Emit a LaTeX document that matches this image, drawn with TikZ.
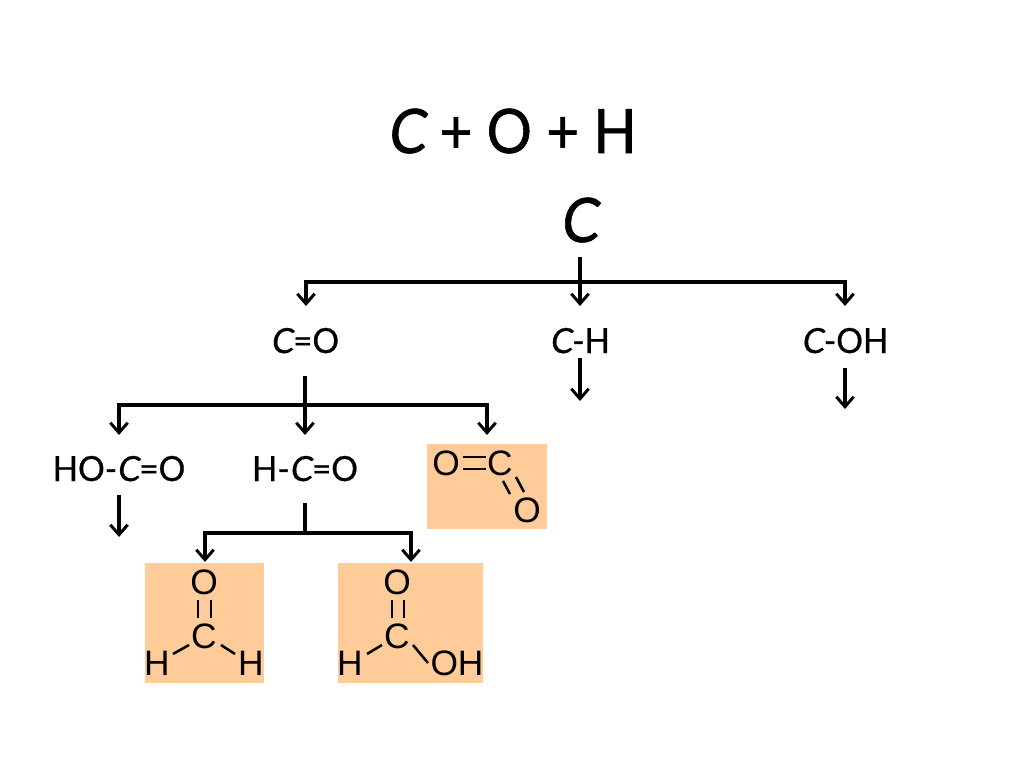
\documentclass[tikz,border=0pt]{standalone}
\usepackage{fontspec}
\newfontfamily\medfont{Lato}[FakeStretch=0.96,FakeBold=0.6]
\newfontfamily\medslant{Lato}[FakeStretch=0.96,FakeBold=0.6,FakeSlant=0.12]
\newfontfamily\bigfont{Lato}[FakeStretch=0.92,FakeBold=1]
\newfontfamily\bigslant{Lato}[FakeStretch=0.92,FakeBold=1,FakeSlant=0.12]
\newfontfamily\chemfont{Liberation Sans}
\usetikzlibrary{arrows.meta,calc}
\definecolor{peach}{HTML}{FFCC99}
\newcommand{\cm}{{\medslant C}}
\newcommand{\cb}{{\bigslant C}}
\tikzset{
  x=0.75pt,y=-0.75pt,
  big/.style={anchor=base,inner sep=0pt,font=\bigfont\fontsize{46}{50}\selectfont},
  med/.style={anchor=base,inner sep=0pt,font=\medfont\fontsize{26}{30}\selectfont},
  atom/.style={anchor=base,inner sep=0pt,font=\chemfont\fontsize{26.5}{30}\selectfont},
  flow/.style={line width=2.4pt,black},
  arrowed/.style={flow,-{Straight Barb[length=7.5pt,width=13pt,line width=2.2pt]}},
  bond/.style={line width=1.9pt,black},
  panel/.style={fill=peach,draw=none}
}
\begin{document}
\begin{tikzpicture}
\useasboundingbox (0,0) rectangle (1024,768);
\fill[white] (0,0) rectangle (1024,768);
% panels
\fill[panel] (427,444) rectangle (547,529);
\fill[panel] (145,563) rectangle (264,683);
\fill[panel] (338,563) rectangle (483,683);
% titles and labels
\node[big] (title) at (512,153) {\cb{} + O + H};
\node[big] (root) at (579,242) {\cb};
\node[med] (co) at (305,353) {\cm=O};
\node[med] (ch) at (580,353) {\cm-H};
\node[med] (coh) at (845,353) {\cm-OH};
\node[med] (hoco) at (119,481) {HO-\cm=O};
\node[med] (hco) at (305,481) {H-\cm=O};
% first tier
\coordinate (j1) at (580,282);
\coordinate (t1a) at (306,306);
\coordinate (t1b) at (580,306);
\coordinate (t1c) at (845,306);
\draw[arrowed] (580,257) -- (t1b);
\draw[arrowed] (j1) -| (t1a);
\draw[arrowed] (j1) -| (t1c);
\coordinate (a1) at (580,358);
\coordinate (a2) at (580,401);
\draw[arrowed] (a1) -- (a2);
\coordinate (b1) at (845,368);
\coordinate (b2) at (845,409);
\draw[arrowed] (b1) -- (b2);
% second tier
\coordinate (s0) at (305,376);
\coordinate (j2) at (305,405);
\coordinate (t2a) at (119,435);
\coordinate (t2b) at (305,435);
\coordinate (t2c) at (487,435);
\draw[arrowed] (s0) -- (t2b);
\draw[arrowed] (j2) -| (t2a);
\draw[arrowed] (j2) -| (t2c);
\coordinate (c1) at (119,495);
\coordinate (c2) at (119,537);
\draw[arrowed] (c1) -- (c2);
% third tier
\coordinate (s1) at (305,503);
\coordinate (j3) at (305,533);
\coordinate (t3a) at (205,562);
\coordinate (t3b) at (411,562);
\draw[flow] (s1) -- (j3);
\draw[arrowed] (j3) -| (t3a);
\draw[arrowed] (j3) -| (t3b);
% carbon dioxide
\node[atom] (do1) at (446,475) {O};
\node[atom] (dc) at (500,475) {C};
\node[atom] (do2) at (527,522) {O};
\draw[bond] ($(do1.base)+(17,-18)$) -- ($(dc.base)+(-14,-18)$);
\draw[bond] ($(do1.base)+(17,-6)$) -- ($(dc.base)+(-14,-6)$);
\draw[bond] ($(dc.base)+(3,6)$) -- ($(do2.base)+(-17,-28)$);
\draw[bond] ($(dc.base)+(16,2)$) -- ($(do2.base)+(-3,-30)$);
% formaldehyde
\node[atom] (fo) at (204,594) {O};
\node[atom] (fc) at (204,648) {C};
\node[atom] (fh1) at (157,675) {H};
\node[atom] (fh2) at (251,675) {H};
\draw[bond] ($(fo.base)+(-6,6)$) -- ($(fc.base)+(-6,-30)$);
\draw[bond] ($(fo.base)+(7,6)$) -- ($(fc.base)+(7,-30)$);
\draw[bond] ($(fh1.base)+(16,-21)$) -- ($(fc.base)+(-15,-3)$);
\draw[bond] ($(fc.base)+(17,-3)$) -- ($(fh2.base)+(-16,-21)$);
% formic acid
\node[atom] (ao) at (397,594) {O};
\node[atom] (ac) at (397,648) {C};
\node[atom] (ah) at (350,675) {H};
\node[atom] (aoh) at (457,675) {OH};
\draw[bond] ($(ao.base)+(-5,6)$) -- ($(ac.base)+(-5,-30)$);
\draw[bond] ($(ao.base)+(7,6)$) -- ($(ac.base)+(7,-30)$);
\draw[bond] ($(ah.base)+(17,-21)$) -- ($(ac.base)+(-15,-3)$);
\draw[bond] ($(ac.base)+(16,-3)$) -- ($(aoh.base)+(-29,-12)$);
\end{tikzpicture}
\end{document}
